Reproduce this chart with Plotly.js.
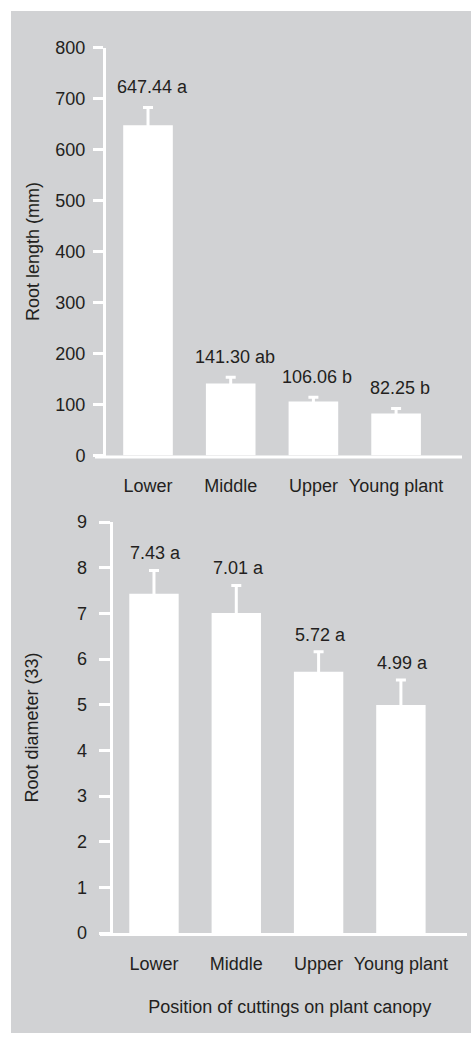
<!DOCTYPE html>
<html>
<head>
<meta charset="utf-8">
<script src="https://cdn.plot.ly/plotly-3.0.1.min.js"></script>
<style>html,body{margin:0;padding:0;background:#fff;}#chart{width:471px;height:1043px;}</style>
</head>
<body>
<div id="chart"></div>
<script>
// Data
const categories = ["Lower", "Middle", "Upper", "Young plant"];
const rootLength = [647.44, 141.30, 106.06, 82.25];
const rootLengthErr = [35, 12, 8, 10];
const rootLengthLetters = ["a", "ab", "b", "b"];
const rootDiameter = [7.43, 7.01, 5.72, 4.99];
const rootDiameterErr = [0.51, 0.60, 0.44, 0.55];
const rootDiameterLetters = ["a", "a", "a", "a"];
const lengthTicks = [0, 100, 200, 300, 400, 500, 600, 700, 800];
const diameterTicks = [0, 1, 2, 3, 4, 5, 6, 7, 8, 9];

const W = 471, H = 1043;
const px = v => v / W;
const py = v => 1 - v / H;

const TXT = "#231f20";
const FONT = {family: "Liberation Sans, Arial, sans-serif", size: 18, color: TXT};
const GRAY = "#d1d2d4";

const barStyle = {
  type: "bar",
  width: 0.6,
  marker: {color: "#ffffff", line: {width: 0}},
  hoverinfo: "skip",
  showlegend: false
};

const trace1 = Object.assign({}, barStyle, {
  x: categories, y: rootLength, xaxis: "x", yaxis: "y",
  error_y: {type: "data", symmetric: true, array: rootLengthErr,
            color: "#ffffff", thickness: 3, width: 5}
});
const trace2 = Object.assign({}, barStyle, {
  x: categories, y: rootDiameter, xaxis: "x2", yaxis: "y2",
  error_y: {type: "data", symmetric: true, array: rootDiameterErr,
            color: "#ffffff", thickness: 3, width: 5}
});

const annotations = [];
categories.forEach((c, i) => {
  annotations.push({
    x: c, y: rootLength[i] + rootLengthErr[i], xref: "x", yref: "y",
    text: rootLength[i].toFixed(2) + " " + rootLengthLetters[i],
    showarrow: false, yanchor: "bottom", yshift: 8, xshift: 4, font: FONT
  });
  annotations.push({
    x: c, y: rootDiameter[i] + rootDiameterErr[i], xref: "x2", yref: "y2",
    text: rootDiameter[i].toFixed(2) + " " + rootDiameterLetters[i],
    showarrow: false, yanchor: "bottom", yshift: 5, xshift: 2, font: FONT
  });
});

const yCommon = {
  showline: true, linecolor: "#ffffff", linewidth: 3,
  ticks: "outside", tickcolor: "#ffffff", tickwidth: 3, ticklen: 10,
  showgrid: false, zeroline: false, tickfont: FONT, fixedrange: true
};
const xCommon = {
  type: "category", showline: false, ticks: "", showgrid: false, zeroline: false,
  tickfont: FONT, fixedrange: true
};

const layout = {
  width: W, height: H,
  margin: {l: 0, r: 0, t: 0, b: 0},
  paper_bgcolor: "#ffffff",
  plot_bgcolor: "rgba(0,0,0,0)",
  font: FONT,
  showlegend: false,
  xaxis: Object.assign({}, xCommon, {
    domain: [px(106), px(462)], range: [-0.508, 3.797], anchor: "y",
    ticklabelstandoff: 17
  }),
  yaxis: Object.assign({}, yCommon, {
    domain: [py(455.5), py(47.5)], range: [0, 800], anchor: "x",
    tickvals: lengthTicks, ticklabelstandoff: 4,
    title: {text: "Root length (mm)", font: FONT, standoff: 12}
  }),
  xaxis2: Object.assign({}, xCommon, {
    domain: [px(112.5), px(467)], range: [-0.504, 3.803], anchor: "y2",
    ticklabelstandoff: 18,
    title: {text: "Position of cuttings on plant canopy", font: FONT, standoff: 27}
  }),
  yaxis2: Object.assign({}, yCommon, {
    domain: [py(933), py(522)], range: [0, 9], anchor: "x2",
    tickvals: diameterTicks, ticklen: 11, ticklabelstandoff: 8,
    title: {text: "Root diameter (33)", font: FONT, standoff: 34}
  }),
  shapes: [
    {type: "rect", xref: "paper", yref: "paper", x0: px(11), x1: 1, y0: py(1033), y1: py(11),
     fillcolor: GRAY, line: {width: 0}, layer: "below"},
    {type: "line", xref: "paper", yref: "paper", x0: px(95), x1: px(462), y0: py(457), y1: py(457),
     line: {color: "#ffffff", width: 3}},
    {type: "line", xref: "paper", yref: "paper", x0: px(100), x1: px(467), y0: py(934.5), y1: py(934.5),
     line: {color: "#ffffff", width: 3}}
  ],
  annotations: annotations
};

Plotly.newPlot("chart", [trace1, trace2], layout, {displayModeBar: false, staticPlot: true});
</script>
</body>
</html>
